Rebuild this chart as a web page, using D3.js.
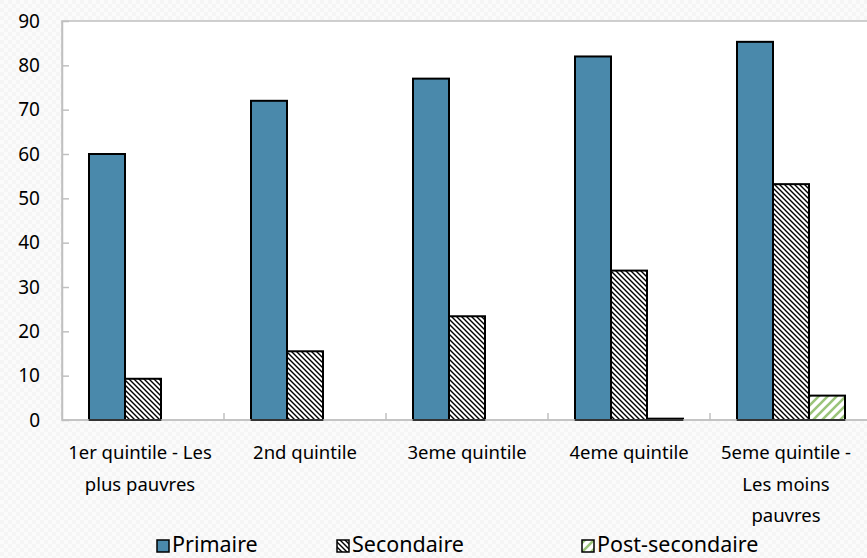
<!DOCTYPE html>
<html><head><meta charset="utf-8">
<script src="https://cdn.jsdelivr.net/npm/d3@7/dist/d3.min.js"></script>
<style>html,body{margin:0;padding:0;background:#fff;overflow:hidden}</style>
</head><body>
<svg id="c" width="867" height="558"></svg>
<script>
const categories = [["1er quintile - Les","plus pauvres"],["2nd quintile"],["3eme quintile"],["4eme quintile"],["5eme quintile -","Les moins","pauvres"]];
const seriesNames = ["Primaire","Secondaire","Post-secondaire"];
const primaire = [60, 72, 77, 82, 85.3];
const secondaire = [9.3, 15.5, 23.4, 33.7, 53.2];
const postSecondaire = [0, 0, 0, 0.3, 5.5];
const yTicks = [0,10,20,30,40,50,60,70,80,90];

(function(){
const FONT = "'Noto Sans', 'Open Sans', sans-serif";
const svg = d3.select("#c");
const defs = svg.append("defs");
const bg = defs.append("pattern").attr("id","bg").attr("width",8).attr("height",8).attr("patternUnits","userSpaceOnUse");
bg.append("rect").attr("width",8).attr("height",8).attr("fill","#fbfbfb");
bg.append("rect").attr("width",4).attr("height",4).attr("fill","#f5f5f5");
bg.append("rect").attr("x",4).attr("y",4).attr("width",4).attr("height",4).attr("fill","#f5f5f5");
const h1 = defs.append("pattern").attr("id","hatch").attr("width",5).attr("height",5).attr("patternUnits","userSpaceOnUse");
h1.append("rect").attr("width",5).attr("height",5).attr("fill","#fff");
h1.append("path").attr("d","M-1,-1 L6,6 M-1,4 L1,6 M4,-1 L6,1").attr("stroke","#000").attr("stroke-width",1.4);
const h2 = defs.append("pattern").attr("id","green").attr("width",9).attr("height",9).attr("patternUnits","userSpaceOnUse");
h2.append("rect").attr("width",9).attr("height",9).attr("fill","#fff");
h2.append("path").attr("d","M-1,10 L10,-1 M-2,2 L2,-2 M7,11 L11,7").attr("stroke","#9bc47a").attr("stroke-width",2.6);

svg.append("rect").attr("width",867).attr("height",558).attr("fill","url(#bg)");

const pL = 62, pT = 21, pB = 420, pR = 872;
svg.append("rect").attr("x",pL).attr("y",pT).attr("width",pR-pL).attr("height",pB-pT).attr("fill","#fff").attr("stroke","#c0c0c0").attr("stroke-width",1.5);

const x = d3.scaleBand().domain(d3.range(categories.length)).range([pL,pR]).paddingInner(0).paddingOuter(0);
const xs = d3.scaleBand().domain(seriesNames).range([0,x.bandwidth()]).paddingInner(0).paddingOuter(0.75);
const y = d3.scaleLinear().domain([0,90]).range([pB,pT]);

const fills = {"Primaire":"#4a89ab","Secondaire":"url(#hatch)","Post-secondaire":"url(#green)"};
const vals = {"Primaire":primaire,"Secondaire":secondaire,"Post-secondaire":postSecondaire};

const yAxis = d3.axisLeft(y).tickValues(yTicks).tickSize(-7).tickPadding(22);
const gy = svg.append("g").attr("transform",`translate(${pL},0)`).call(yAxis);
gy.select(".domain").attr("stroke","#c0c0c0").attr("stroke-width",1.5);
gy.selectAll(".tick line").attr("stroke","#c0c0c0").attr("stroke-width",1.5);
gy.selectAll(".tick text").attr("font-family",FONT).attr("font-size",19).attr("fill","#000");
gy.selectAll(".tick").filter(d=>d===90||d===0).select("line").remove();

const bounds = d3.range(1,categories.length).map(i=>x(i));
svg.append("g").selectAll("line").data(bounds).join("line")
  .attr("x1",d=>d).attr("x2",d=>d).attr("y1",pB).attr("y2",pB-7)
  .attr("stroke","#c0c0c0").attr("stroke-width",1.5);

seriesNames.forEach(s=>{
  svg.append("g").selectAll("rect").data(vals[s]).join("rect")
    .attr("x",(d,i)=>x(i)+xs(s))
    .attr("y",d=>y(d))
    .attr("width",xs.bandwidth())
    .attr("height",d=>pB-y(d))
    .attr("fill",fills[s])
    .attr("stroke",d=>d>0?"#000":"none").attr("stroke-width",2);
});
svg.append("line").attr("x1",pL).attr("x2",pR).attr("y1",pB).attr("y2",pB).attr("stroke","#c0c0c0").attr("stroke-width",1.5);
seriesNames.forEach(s=>{
  svg.append("g").selectAll("line").data(vals[s]).join("line")
    .attr("x1",(d,i)=>x(i)+xs(s)).attr("x2",(d,i)=>x(i)+xs(s)+xs.bandwidth())
    .attr("y1",pB).attr("y2",pB)
    .attr("stroke",d=>d>0?"#333":"none").attr("stroke-width",2);
});

const cl = svg.append("g").attr("font-family",FONT).attr("font-size",18.5).attr("text-anchor","middle");
categories.forEach((lines,i)=>{
  const cx = x(i)+x.bandwidth()/2 - (i===4?5:(i===0?3:0));
  const t = cl.append("text").attr("y",459);
  lines.forEach((ln,j)=>t.append("tspan").attr("x",cx).attr("dy",j===0?0:31.5).text(ln));
});

const legX = [157, 337, 582];
const lg = svg.append("g").attr("font-family",FONT).attr("font-size",21.5);
seriesNames.forEach((s,i)=>{
  lg.append("rect").attr("x",legX[i]).attr("y",540).attr("width",12).attr("height",12)
    .attr("fill",fills[s]).attr("stroke","#000").attr("stroke-width",1.5);
  lg.append("text").attr("x",legX[i]+15).attr("y",552).text(s);
});
})();
</script>
</body></html>
